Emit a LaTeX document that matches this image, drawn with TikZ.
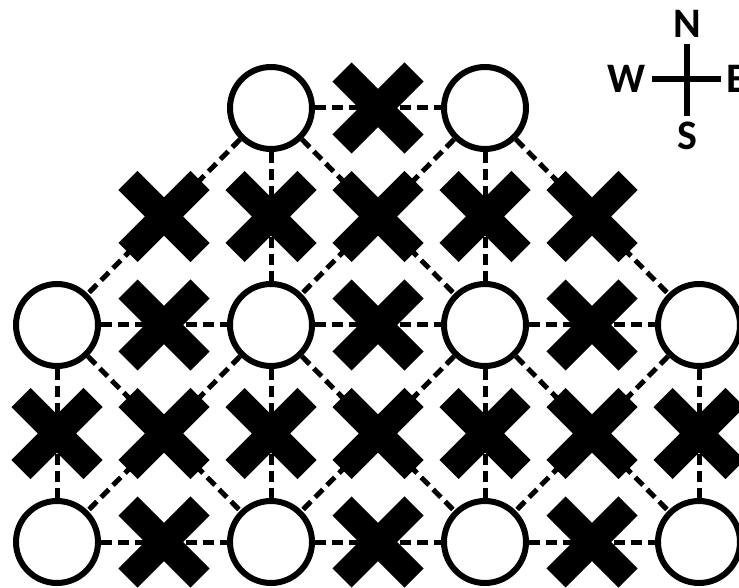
\documentclass[tikz,border=0pt]{standalone}
\usepackage{fontspec}
\setsansfont{Carlito}
\usepackage{tikz}
\usetikzlibrary{positioning,shapes.misc}
\tikzset{
  site/.style={circle,draw=black,line width=6pt,fill=white,minimum size=82pt,inner sep=0pt},
  link/.style={line width=5pt,dash pattern=on 11pt off 6pt},
  blocked/.style={cross out,draw=black,solid,line width=27pt,minimum size=45pt,inner sep=0pt},
  compass/.style={font=\sffamily\bfseries\fontsize{42}{42}\selectfont,inner sep=6pt,outer sep=0pt},
  needle/.style={line width=5.5pt}
}

\begin{document}
\begin{tikzpicture}[x=1pt,y=1pt,node distance=129pt and 126pt]
  \useasboundingbox (0,0) rectangle (739,587);
  % sites
  \node[site] (m1) at (57,262) {};
  \node[site,right=of m1] (m2) {};
  \node[site,right=of m2] (m3) {};
  \node[site,right=of m3] (m4) {};
  \node[site,above=of m2] (t1) {};
  \node[site,above=of m3] (t2) {};
  \node[site,below=of m1] (b1) {};
  \node[site,below=of m2] (b2) {};
  \node[site,below=of m3] (b3) {};
  \node[site,below=of m4] (b4) {};
  % top links
  \draw[link] (t1) -- node[blocked,midway] (xt1) {} (t2);
  \draw[link] (t1) -- node[blocked,midway] (xt2) {} (m1);
  \draw[link] (t1) -- node[blocked,midway] (xt3) {} (m2);
  \draw[link] (t1) -- node[blocked,midway] (xt4) {} (m3);
  \draw[link] (t2) -- (m2);
  \draw[link] (t2) -- node[blocked,midway] (xt5) {} (m3);
  \draw[link] (t2) -- node[blocked,midway] (xt6) {} (m4);
  % middle links
  \draw[link] (m1) -- node[blocked,midway] (xm1) {} (m2);
  \draw[link] (m2) -- node[blocked,midway] (xm2) {} (m3);
  \draw[link] (m3) -- node[blocked,midway] (xm3) {} (m4);
  \draw[link] (m1) -- node[blocked,midway] (xm4) {} (b1);
  \draw[link] (m1) -- node[blocked,midway] (xm5) {} (b2);
  \draw[link] (m2) -- (b1);
  \draw[link] (m2) -- node[blocked,midway] (xm6) {} (b2);
  \draw[link] (m2) -- node[blocked,midway] (xm7) {} (b3);
  \draw[link] (m3) -- (b2);
  \draw[link] (m3) -- node[blocked,midway] (xm8) {} (b3);
  \draw[link] (m3) -- node[blocked,midway] (xm9) {} (b4);
  \draw[link] (m4) -- (b3);
  \draw[link] (m4) -- node[blocked,midway] (xm10) {} (b4);
  % bottom links
  \draw[link] (b1) -- node[blocked,midway] (xb1) {} (b2);
  \draw[link] (b2) -- node[blocked,midway] (xb2) {} (b3);
  \draw[link] (b3) -- node[blocked,midway] (xb3) {} (b4);
  % compass
  \node[compass] (cn) at (687,563) {N};
  \node[compass] (cs) at (687,451) {S};
  \node[compass] (cw) at (627,508) {W};
  \node[compass] (ce) at (737,508) {E};
  \draw[needle] (cn) -- (cs);
  \draw[needle] (cw) -- (ce);
\end{tikzpicture}
\end{document}
